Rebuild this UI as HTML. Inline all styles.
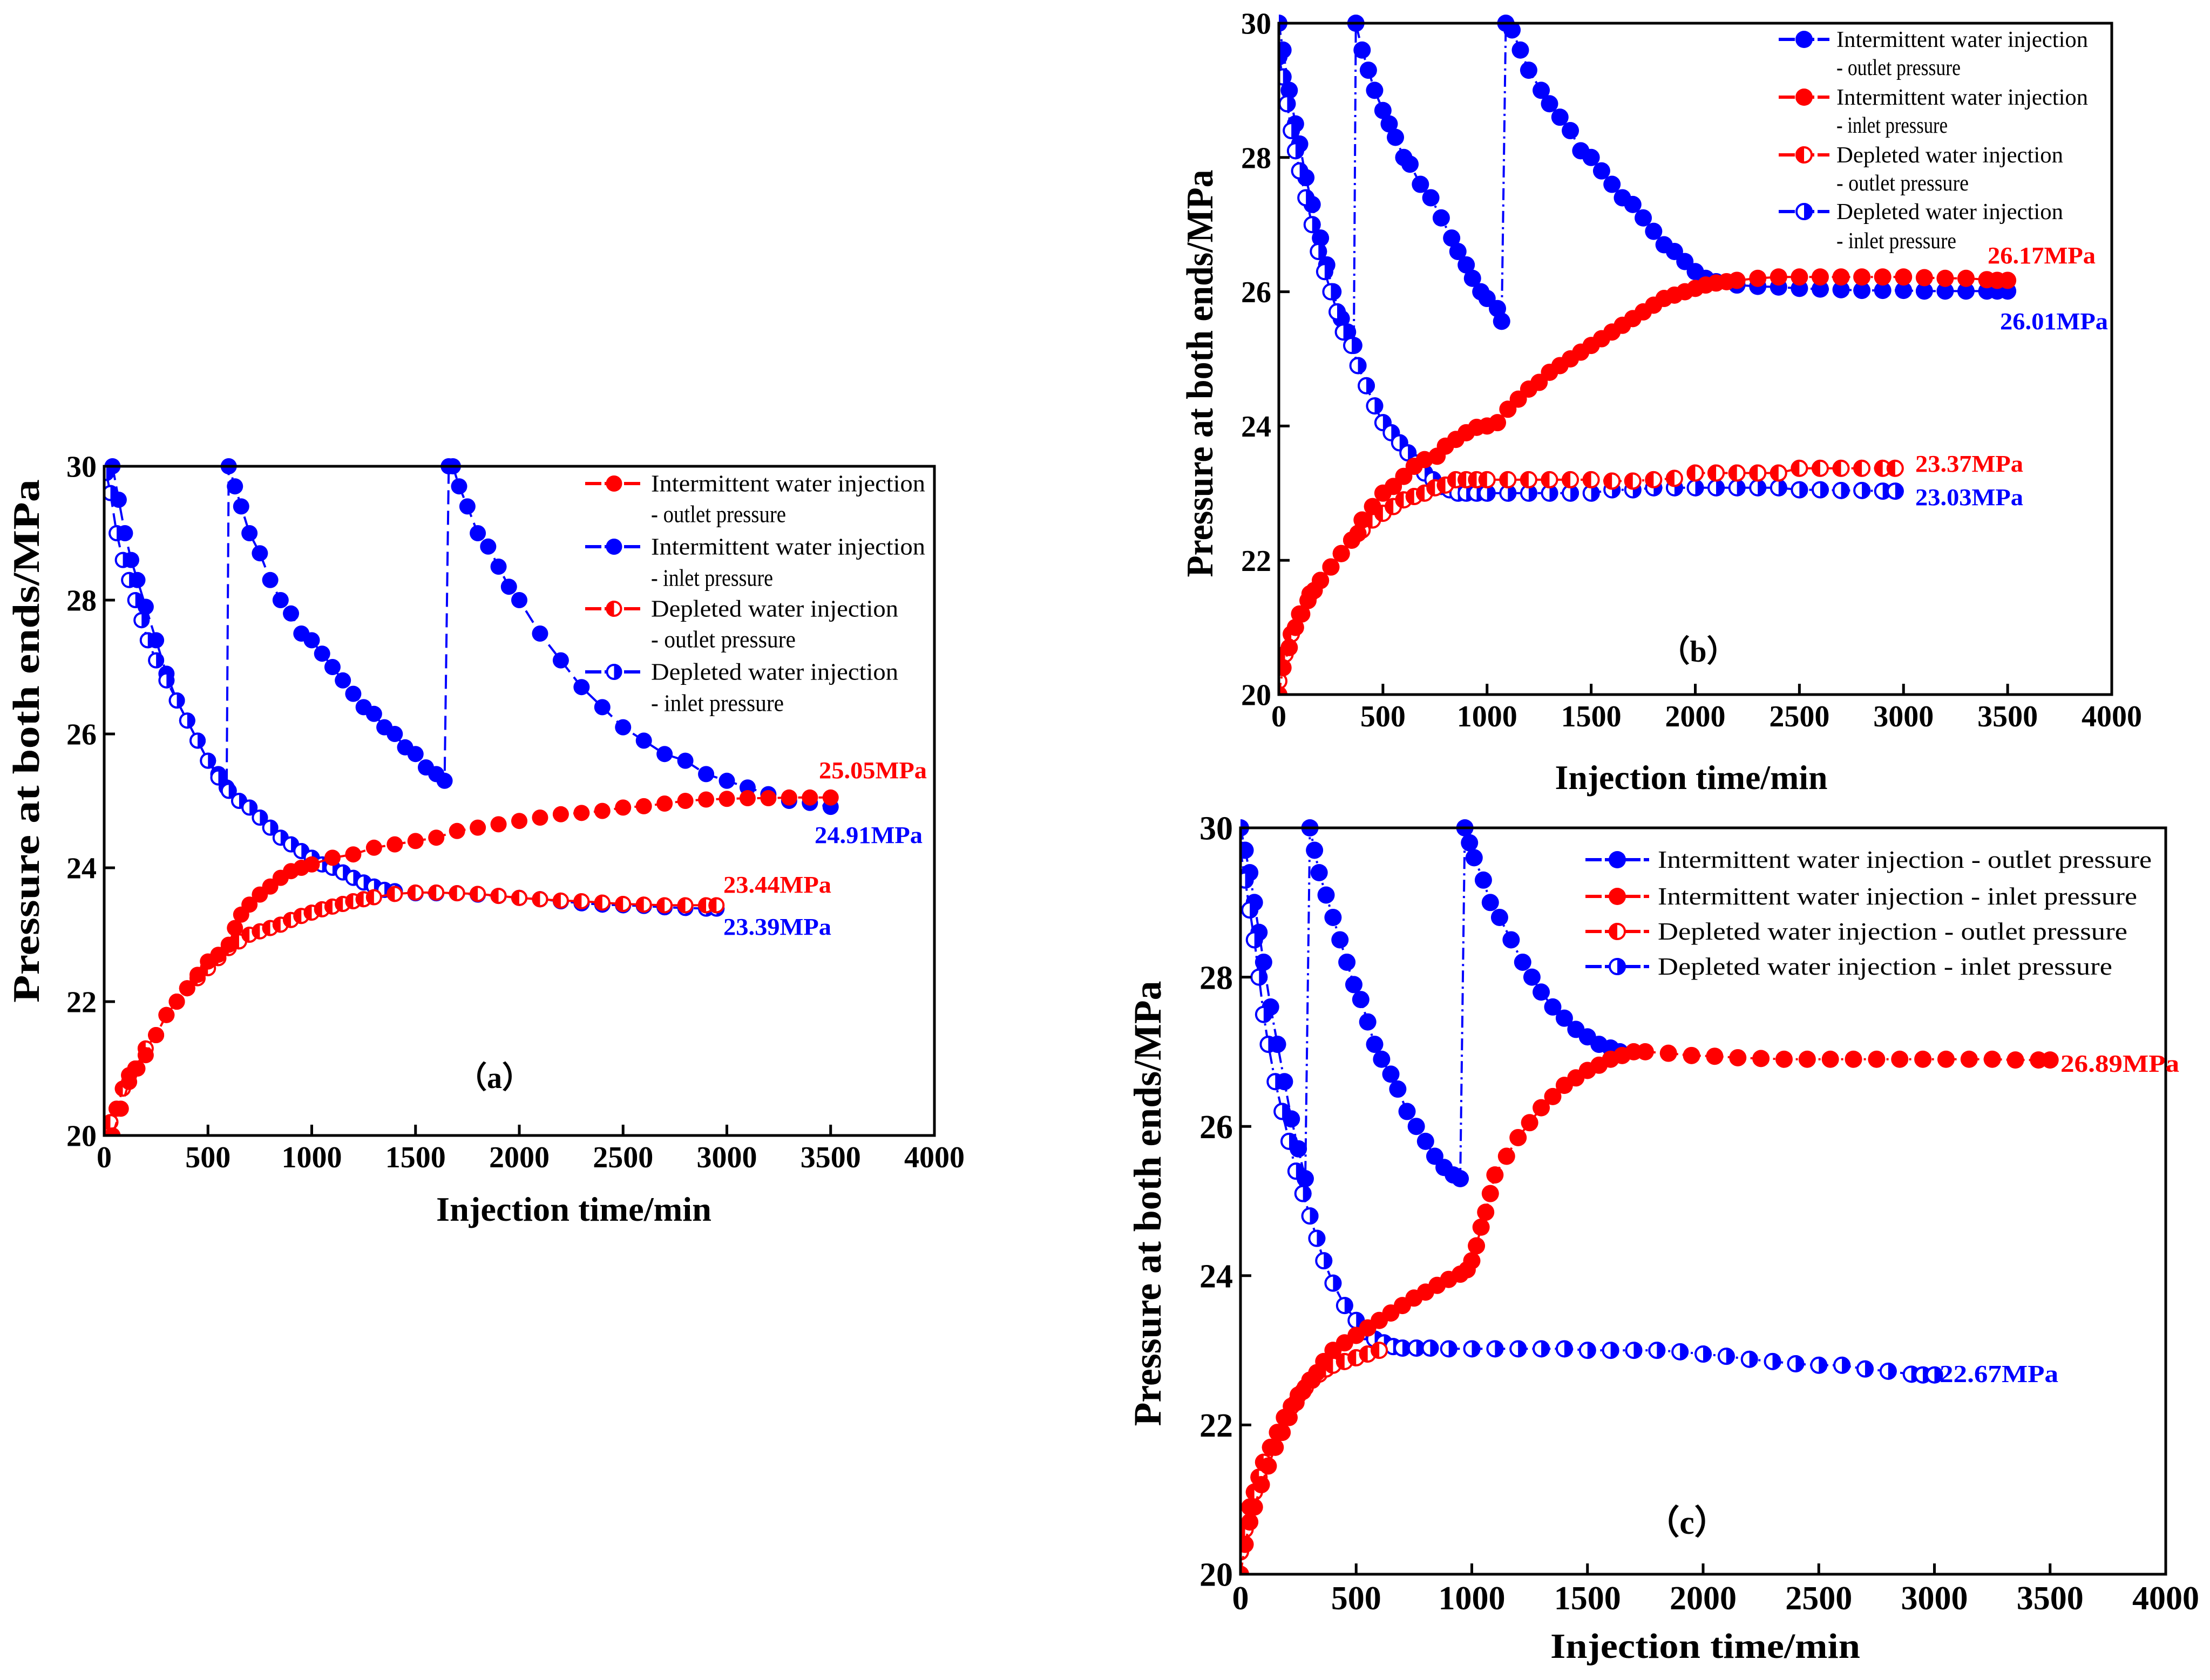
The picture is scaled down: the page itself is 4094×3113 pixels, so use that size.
<!DOCTYPE html>
<html><head><meta charset="utf-8"><style>
html,body{margin:0;padding:0;background:#fff}
svg{display:block}
text{font-family:"Liberation Serif",serif}
</style></head><body>
<svg id="fig" width="4094" height="3113" viewBox="0 0 4094 3113" xmlns="http://www.w3.org/2000/svg"></svg>
<script>
// ---------- Panel (a) data ----------
const a_intIn_t=[40,70,100,130,160,200,250,300,350,400,450,500,550,590,600,630,660,700,750,800,850,900,950,1000,1050,1100,1150,1200,1250,1300,1350,1400,1450,1500,1550,1600,1640,1660,1680,1710,1750,1800,1850,1900,1950,2000,2100,2200,2300,2400,2500,2600,2700,2800,2900,3000,3100,3200,3300,3400,3500];
const a_intIn_p=[30,29.5,29.0,28.6,28.3,27.9,27.4,26.9,26.5,26.2,25.9,25.6,25.4,25.2,30,29.7,29.4,29.0,28.7,28.3,28.0,27.8,27.5,27.4,27.2,27.0,26.8,26.6,26.4,26.3,26.1,26.0,25.8,25.7,25.5,25.4,25.3,30,30,29.7,29.4,29.0,28.8,28.5,28.2,28.0,27.5,27.1,26.7,26.4,26.1,25.9,25.7,25.6,25.4,25.3,25.2,25.1,25.0,24.97,24.91];
const a_intOut_t=[40,80,120,160,200,250,300,350,400,450,500,550,600,630,660,700,750,800,850,900,950,1000,1100,1200,1300,1400,1500,1600,1700,1800,1900,2000,2100,2200,2300,2400,2500,2600,2700,2800,2900,3000,3100,3200,3300,3400,3500];
const a_intOut_p=[20,20.4,20.8,21.0,21.2,21.5,21.8,22.0,22.2,22.4,22.6,22.7,22.85,23.1,23.3,23.45,23.6,23.72,23.85,23.95,24.0,24.05,24.15,24.2,24.3,24.35,24.4,24.45,24.55,24.6,24.65,24.7,24.75,24.8,24.82,24.85,24.9,24.92,24.96,25.0,25.02,25.03,25.04,25.04,25.05,25.05,25.05];
const a_depOut_t=[10,30,60,90,120,150,200,250,300,350,400,450,500,550,600,650,700,750,800,850,900,950,1000,1050,1100,1150,1200,1250,1300,1400,1500,1600,1700,1800,1900,2000,2100,2200,2300,2400,2500,2600,2700,2800,2900,2950];
const a_depOut_p=[20,20.2,20.4,20.7,20.9,21.0,21.3,21.5,21.8,22.0,22.2,22.35,22.5,22.65,22.8,22.9,23.0,23.05,23.1,23.15,23.22,23.28,23.33,23.38,23.42,23.46,23.5,23.53,23.56,23.61,23.63,23.63,23.62,23.61,23.58,23.55,23.53,23.51,23.5,23.48,23.46,23.45,23.44,23.44,23.44,23.44];
const a_depIn_t=[10,30,60,90,120,150,180,210,250,300,350,400,450,500,550,600,650,700,750,800,850,900,950,1000,1050,1100,1150,1200,1250,1300,1350,1400,1500,1600,1700,1800,1900,2000,2100,2200,2300,2400,2500,2600,2700,2800,2900,2950];
const a_depIn_p=[29.9,29.6,29.0,28.6,28.3,28.0,27.7,27.4,27.1,26.8,26.5,26.2,25.9,25.6,25.35,25.15,25.0,24.9,24.75,24.6,24.45,24.35,24.25,24.15,24.05,24.0,23.93,23.85,23.78,23.72,23.67,23.65,23.62,23.62,23.62,23.6,23.58,23.55,23.53,23.5,23.47,23.45,23.44,23.43,23.41,23.4,23.39,23.39];
// ---------- Panel (b) data ----------
const b_intOut_t=[0,20,50,80,100,130,160,200,230,260,300,330,360,370,400,430,460,500,530,560,600,630,680,730,780,830,860,900,930,970,1000,1050,1070,1090,1120,1160,1200,1260,1300,1350,1400,1450,1500,1550,1600,1650,1700,1750,1800,1850,1900,1950,2000,2050,2100,2200,2300,2400,2500,2600,2700,2800,2900,3000,3100,3200,3300,3400,3450,3500];
const b_intOut_p=[30,29.6,29.0,28.5,28.2,27.7,27.3,26.8,26.4,26.0,25.6,25.4,25.2,30,29.6,29.3,29.0,28.7,28.5,28.3,28.0,27.9,27.6,27.4,27.1,26.8,26.6,26.4,26.2,26.0,25.9,25.75,25.56,30,29.9,29.6,29.3,29.0,28.8,28.6,28.4,28.1,28.0,27.8,27.6,27.4,27.3,27.1,26.9,26.7,26.6,26.45,26.3,26.2,26.15,26.1,26.08,26.07,26.05,26.04,26.03,26.02,26.02,26.02,26.01,26.01,26.01,26.01,26.01,26.01];
const b_intIn_t=[0,20,50,80,110,140,170,200,250,300,350,380,400,450,500,550,600,650,700,760,800,850,900,950,1000,1050,1100,1150,1200,1250,1300,1350,1400,1450,1500,1550,1600,1650,1700,1750,1800,1850,1900,1950,2000,2050,2100,2150,2200,2300,2400,2500,2600,2700,2800,2900,3000,3100,3200,3300,3400,3450,3500];
const b_intIn_p=[20,20.4,20.7,21.0,21.2,21.4,21.55,21.7,21.9,22.1,22.3,22.4,22.6,22.8,23.0,23.1,23.25,23.4,23.5,23.55,23.7,23.8,23.9,23.98,24.0,24.05,24.25,24.4,24.55,24.65,24.8,24.9,25.0,25.1,25.2,25.3,25.4,25.5,25.6,25.7,25.8,25.9,25.95,26.0,26.05,26.1,26.13,26.15,26.17,26.2,26.22,26.22,26.22,26.22,26.22,26.22,26.22,26.21,26.2,26.2,26.18,26.17,26.17];
const b_depOut_t=[0,30,60,100,150,200,250,300,350,400,450,500,550,600,650,700,750,800,850,900,950,1000,1100,1200,1300,1400,1500,1600,1700,1800,1900,2000,2100,2200,2300,2400,2500,2600,2700,2800,2900,2960];
const b_depOut_p=[20.2,20.6,20.9,21.2,21.5,21.7,21.9,22.1,22.3,22.45,22.6,22.7,22.8,22.9,22.95,23.0,23.08,23.12,23.2,23.2,23.2,23.2,23.2,23.2,23.2,23.2,23.2,23.18,23.18,23.2,23.22,23.3,23.3,23.3,23.3,23.3,23.37,23.37,23.37,23.37,23.37,23.37];
const b_depIn_t=[0,20,40,60,80,100,130,160,190,220,250,280,310,350,380,420,460,500,540,580,620,660,700,740,780,820,860,900,950,1000,1100,1200,1300,1400,1500,1600,1700,1800,1900,2000,2100,2200,2300,2400,2500,2600,2700,2800,2900,2960];
const b_depIn_p=[29.5,29.2,28.8,28.4,28.1,27.8,27.4,27.0,26.6,26.3,26.0,25.7,25.4,25.2,24.9,24.6,24.3,24.05,23.9,23.75,23.6,23.45,23.3,23.2,23.1,23.05,23.0,23.0,23.0,23.0,23.0,23.0,23.0,23.0,23.0,23.05,23.05,23.08,23.08,23.08,23.08,23.08,23.08,23.08,23.05,23.05,23.04,23.04,23.03,23.03];
// ---------- Panel (c) data ----------
const c_intOut_t=[0,20,40,60,80,100,130,160,190,220,250,280,300,320,340,370,400,430,460,490,520,550,580,610,650,680,720,760,800,840,880,920,950,970,990,1010,1050,1080,1120,1170,1220,1260,1300,1350,1400,1450,1500,1550,1600,1640];
const c_intOut_p=[30,29.7,29.4,29.0,28.6,28.2,27.6,27.1,26.6,26.1,25.7,25.3,30,29.7,29.4,29.1,28.8,28.5,28.2,27.9,27.7,27.4,27.1,26.9,26.7,26.5,26.2,26.0,25.8,25.6,25.45,25.35,25.3,30,29.8,29.6,29.3,29.0,28.8,28.5,28.2,28.0,27.8,27.6,27.45,27.3,27.2,27.1,27.05,27.0];
const c_intIn_t=[0,20,40,60,90,120,150,180,210,240,270,300,330,360,400,450,500,550,600,650,700,750,800,850,900,950,980,1000,1020,1040,1060,1080,1100,1150,1200,1250,1300,1350,1400,1450,1500,1550,1600,1650,1700,1750,1850,1950,2050,2150,2250,2350,2450,2550,2650,2750,2850,2950,3050,3150,3250,3350,3450,3500];
const c_intIn_p=[20,20.4,20.7,20.9,21.2,21.45,21.7,21.9,22.1,22.3,22.45,22.6,22.7,22.85,23.0,23.1,23.2,23.3,23.4,23.5,23.6,23.7,23.78,23.87,23.95,24.02,24.08,24.2,24.4,24.65,24.85,25.1,25.35,25.6,25.85,26.05,26.25,26.4,26.55,26.65,26.75,26.82,26.9,26.95,27.0,27.0,26.98,26.95,26.94,26.92,26.91,26.9,26.9,26.9,26.9,26.9,26.9,26.9,26.9,26.9,26.9,26.89,26.89,26.89];
const c_depOut_t=[0,20,40,60,80,100,130,160,190,220,250,280,310,340,370,400,450,500,550,600];
const c_depOut_p=[20.3,20.6,20.9,21.1,21.3,21.5,21.7,21.9,22.1,22.25,22.4,22.5,22.6,22.68,22.75,22.8,22.85,22.9,22.95,23.0];
const c_depIn_t=[0,20,40,60,80,100,120,150,180,210,240,270,300,330,360,400,450,500,540,580,620,660,700,760,820,900,1000,1100,1200,1300,1400,1500,1600,1700,1800,1900,2000,2100,2200,2300,2400,2500,2600,2700,2800,2900,2950,3000];
const c_depIn_p=[29.7,29.3,28.9,28.5,28.0,27.5,27.1,26.6,26.2,25.8,25.4,25.1,24.8,24.5,24.2,23.9,23.6,23.4,23.25,23.15,23.1,23.05,23.03,23.03,23.03,23.02,23.02,23.02,23.02,23.02,23.02,23.0,23.0,23.0,23.0,22.98,22.95,22.92,22.88,22.85,22.82,22.8,22.8,22.75,22.72,22.68,22.67,22.67];
// ---------- shared tick labels ----------
const xTicks=[0,500,1000,1500,2000,2500,3000,3500,4000];
const yTicks=[20,22,24,26,28,30];

const NS='http://www.w3.org/2000/svg';
const svg=document.getElementById('fig');
const RED='#ff0000',BLUE='#0000ff';
function mk(tag,attrs,parent){const e=document.createElementNS(NS,tag);for(const k in attrs)e.setAttribute(k,attrs[k]);(parent||svg).appendChild(e);return e;}

let clipN=0;
function marker(g,x,y,r,color,half){
  if(!half){
    const c=mk('circle',{cx:x,cy:y,r:r,fill:color},g);
    
    
  }else{
    const c=mk('circle',{cx:x,cy:y,r:r-2,fill:'#fff',stroke:color,'stroke-width':4},g);
    
    
    const p=mk('path',{d:`M${x},${y-r} A${r},${r} 0 0 ${half==='L'?0:1} ${x},${y+r} Z`,fill:color},g);
    
    
  }
}

function panel(P){
  const g=mk('g',{});
  
  
  const sx=t=>P.x0+(t/4000)*(P.x1-P.x0);
  const sy=v=>P.yb-((v-20)/10)*(P.yb-P.yt);
  const id='clip'+(clipN++);
  const cp=mk('clipPath',{id:id},g);
  mk('rect',{x:P.x0,y:P.yt-P.r,width:P.x1-P.x0,height:P.yb-P.yt+P.r},cp);
  const plot=mk('g',{'clip-path':`url(#${id})`},g);
  
  
  P.series.forEach(s=>{
    const d=s.t.map((t,i)=>(i?'L':'M')+sx(t).toFixed(1)+','+sy(s.p[i]).toFixed(1)).join(' ');
    const l=mk('path',{d:d,fill:'none',stroke:s.color,'stroke-width':4,'stroke-dasharray':P.dash},plot);
    
    
    s.t.forEach((t,i)=>marker(plot,sx(t),sy(s.p[i]),P.r,s.color,s.half));
  });
  const fr=mk('rect',{x:P.x0,y:P.yt,width:P.x1-P.x0,height:P.yb-P.yt,fill:'none',stroke:'#000','stroke-width':5},g);
  
  
  xTicks.forEach(t=>{
    const x=sx(t);
    const tk=mk('line',{x1:x,y1:P.yb,x2:x,y2:P.yb-20,stroke:'#000','stroke-width':5},g);
    
    
    const tx=mk('text',{x:x,y:P.yb+P.fs*1.05,'font-size':P.fs,'font-weight':'bold','text-anchor':'middle'},g);
    tx.textContent=t;
    
    
  });
  yTicks.forEach(v=>{
    const y=sy(v);
    const tk=mk('line',{x1:P.x0,y1:y,x2:P.x0+20,y2:y,stroke:'#000','stroke-width':5},g);
    
    
    const tx=mk('text',{x:P.x0-14,y:y+P.fs*0.35,'font-size':P.fs,'font-weight':'bold','text-anchor':'end'},g);
    tx.textContent=v;
    
    
  });
  const xt=mk('text',{x:P.xtx,y:P.xty,'font-size':P.tfs,'font-weight':'bold','text-anchor':'middle',textLength:P.xtw,lengthAdjust:'spacingAndGlyphs'},g);
  xt.textContent='Injection time/min';
  
  
  const yt=mk('text',{x:0,y:0,'font-size':P.tfs+6,'font-weight':'bold','text-anchor':'middle',textLength:P.ytw,lengthAdjust:'spacingAndGlyphs',transform:`translate(${P.ytx},${P.yty}) rotate(-90)`},g);
  yt.textContent='Pressure at both ends/MPa';
  
  
  const pl=mk('text',{x:P.plx,y:P.ply,'font-size':P.fs,'font-weight':'bold','text-anchor':'middle'},g);
  pl.textContent='（'+P.id+'）';
  
  
  P.ann.forEach(a=>{
    const t=mk('text',{x:a[0],y:a[1],'font-size':P.afs,'font-weight':'bold',fill:a[3],textLength:P.aw,lengthAdjust:'spacingAndGlyphs'},g);
    t.textContent=a[2];
    
    
  });
  const lg=mk('g',{},g);
  
  
  P.legend.forEach(e=>{
    if(e.color){
      const ln=mk('line',{x1:P.lx0,y1:e.y,x2:P.lx1,y2:e.y,stroke:e.color,'stroke-width':6,'stroke-dasharray':'30,6'},lg);
      
      
      marker(lg,(P.lx0+P.lx1)/2,e.y,P.r,e.color,e.half);
    }
    const t=mk('text',{x:e.x||P.ltx,y:e.y+P.lfs*0.33,'font-size':P.lfs},lg);
    if(e.w){t.setAttribute('textLength',e.w);t.setAttribute('lengthAdjust','spacingAndGlyphs');}
    t.textContent=e.text;
    
    
  });
}

panel({id:'a',x0:193,x1:1731,yt:864,yb:2104,r:15,dash:'26,12',fs:56,tfs:64,afs:44,aw:200,lfs:44,xtw:510,ytw:970,
  xtx:1063,xty:2262,ytx:72,yty:1373,plx:916,ply:2016,
  series:[
    {name:'a-intermittent-inlet',t:a_intIn_t,p:a_intIn_p,color:BLUE},
    {name:'a-depleted-inlet',t:a_depIn_t,p:a_depIn_p,color:BLUE,half:'R'},
    {name:'a-depleted-outlet',t:a_depOut_t,p:a_depOut_p,color:RED,half:'L'},
    {name:'a-intermittent-outlet',t:a_intOut_t,p:a_intOut_p,color:RED}],
  ann:[[1517,1442,'25.05MPa',RED],[1509,1562,'24.91MPa',BLUE],[1340,1654,'23.44MPa',RED],[1340,1732,'23.39MPa',BLUE]],
  lx0:1084,lx1:1191,ltx:1206,
  legend:[{y:896,color:RED,text:'Intermittent water injection',w:508},{y:953,text:' - outlet pressure',w:250},
    {y:1013,color:BLUE,text:'Intermittent water injection',w:508},{y:1071,text:' - inlet pressure',w:226},
    {y:1128,color:RED,half:'L',text:'Depleted water injection',w:458},{y:1185,text:'  - outlet pressure',w:268},
    {y:1245,color:BLUE,half:'R',text:'Depleted water injection',w:458},{y:1303,text:'  - inlet pressure',w:246}]
});
panel({id:'b',x0:2369,x1:3912,yt:43,yb:1287,r:16,dash:'22,8,4,8',fs:56,tfs:64,afs:44,aw:200,lfs:42,xtw:505,ytw:755,
  xtx:3133,xty:1462,ytx:2246,yty:692,plx:3146,ply:1226,
  series:[
    {name:'b-intermittent-outlet',t:b_intOut_t,p:b_intOut_p,color:BLUE},
    {name:'b-depleted-inlet',t:b_depIn_t,p:b_depIn_p,color:BLUE,half:'R'},
    {name:'b-depleted-outlet',t:b_depOut_t,p:b_depOut_p,color:RED,half:'L'},
    {name:'b-intermittent-inlet',t:b_intIn_t,p:b_intIn_p,color:RED}],
  ann:[[3682,488,'26.17MPa',RED],[3705,610,'26.01MPa',BLUE],[3548,874,'23.37MPa',RED],[3548,936,'23.03MPa',BLUE]],
  lx0:3295,lx1:3389,ltx:3402,
  legend:[{y:73,color:BLUE,text:'Intermittent water injection',w:466},{y:125,text:' - outlet pressure',w:230},
    {y:180,color:RED,text:'Intermittent water injection',w:466},{y:232,text:' - inlet pressure',w:206},
    {y:287,color:RED,half:'L',text:'Depleted water injection',w:420},{y:339,text:'  - outlet pressure',w:245},
    {y:392,color:BLUE,half:'R',text:'Depleted water injection',w:420},{y:446,text:'  - inlet pressure',w:222}]
});
panel({id:'c',x0:2298,x1:4012,yt:1534,yb:2917,r:16,dash:'22,8,4,8',fs:62,tfs:66,afs:46,aw:220,lfs:46,xtw:574,ytw:825,
  xtx:3159,xty:3072,ytx:2150,yty:2230,plx:3125,ply:2842,
  series:[
    {name:'c-intermittent-outlet',t:c_intOut_t,p:c_intOut_p,color:BLUE},
    {name:'c-depleted-inlet',t:c_depIn_t,p:c_depIn_p,color:BLUE,half:'R'},
    {name:'c-depleted-outlet',t:c_depOut_t,p:c_depOut_p,color:RED,half:'L'},
    {name:'c-intermittent-inlet',t:c_intIn_t,p:c_intIn_p,color:RED}],
  ann:[[3817,1986,'26.89MPa',RED],[3593,2561,'22.67MPa',BLUE]],
  lx0:2937,lx1:3055,ltx:3071,
  legend:[{y:1593,color:BLUE,text:'Intermittent water injection - outlet pressure',w:915},
    {y:1661,color:RED,text:'Intermittent water injection - inlet pressure',w:888},
    {y:1726,color:RED,half:'L',text:'Depleted water injection  - outlet pressure',w:870},
    {y:1791,color:BLUE,half:'R',text:'Depleted water injection  - inlet pressure',w:842}]
});
</script>
</body></html>
